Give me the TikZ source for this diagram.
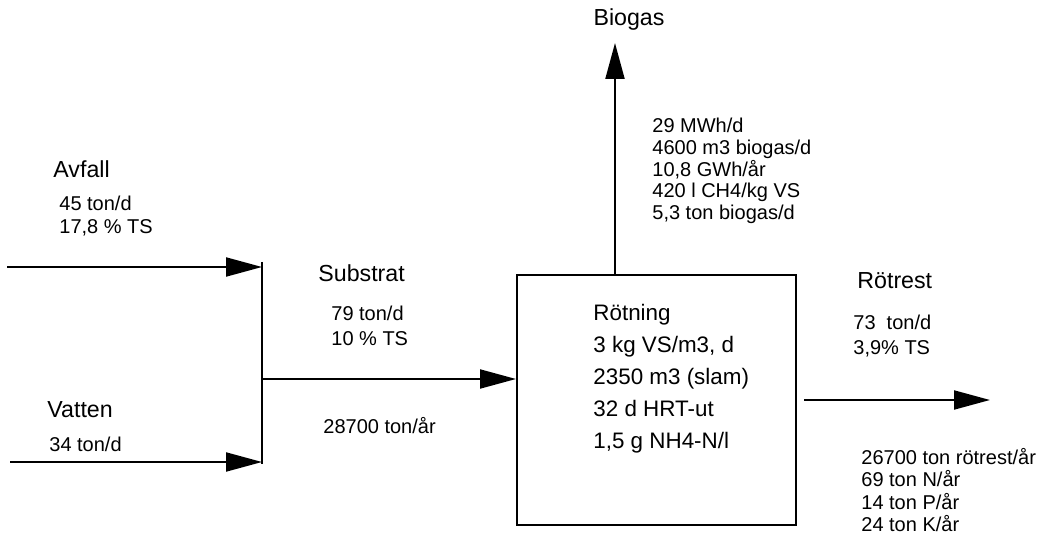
\documentclass[tikz,border=0pt]{standalone}
\usepackage{fontspec}
\setmainfont{Liberation Sans}
\usetikzlibrary{arrows.meta,positioning}

\begin{document}
\begin{tikzpicture}[x=0.5pt, y=-0.5pt,
    flow/.style={-{Triangle[length=18pt, width=9.5pt]}, line width=1pt},
    tank/.style={rectangle, draw, line width=1pt, minimum width=139.5pt, minimum height=125pt, inner sep=0pt},
    title/.style={anchor=west, inner sep=0pt, font=\fontsize{11.6}{14}\selectfont},
    data/.style={anchor=west, inner sep=0pt, align=left, font=\fontsize{10}{11.5}\selectfont}
]
\useasboundingbox (0,0) rectangle (1056,544);

% digester
\node[tank] (rot) at (656.5,400) {};
\node[anchor=west, inner sep=0pt, align=left, font=\fontsize{11.2}{16}\selectfont] (rotinfo) at (593,379) {Rötning\\3 kg VS/m3, d\\2350 m3 (slam)\\32 d HRT-ut\\1,5 g NH4-N/l};

\coordinate (jtop) at (262,262);
\coordinate (jbot) at (262,464);
\coordinate (avin) at (7,267);
\coordinate (vin) at (10,462);
\coordinate (jmid) at (262,379);
\coordinate (gastop) at (615,43);
\coordinate (restend) at (990,400);

\draw[line width=1pt] (jtop) -- (jbot);
\draw[flow] (avin) -- (avin -| jtop);
\draw[flow] (vin) -- (vin -| jtop);
\draw[flow] (jmid) -- (jmid -| rot.west);
\draw[flow] (gastop |- rot.north) -- (gastop);
\draw[flow] ([xshift=3.5pt]rot.east) -- (restend);

% labels
\node[title] (avfall) at (53,169) {Avfall};
\node[data] (avfalldata) at (59,216.5) {45 ton/d\\17,8 \% TS};
\node[title] (vatten) at (47,410) {Vatten};
\node[data] (vattendata) at (49,444) {34 ton/d};
\node[title] (substrat) at (318,273) {Substrat};
\node[data, font=\fontsize{10}{12.5}\selectfont] (substratdata) at (331,326) {79 ton/d\\10 \% TS};
\node[data] (substratyear) at (323,426) {28700 ton/år};
\node[title, anchor=center] (biogas) at (629,20) {Biogas};
\node[data, font=\fontsize{10}{10.9}\selectfont] (biogasdata) at (652,171) {29 MWh/d\\4600 m3 biogas/d\\10,8 GWh/år\\420 l CH4/kg VS\\5,3 ton biogas/d};
\node[title] (rotrest) at (857,281) {Rötrest};
\node[data, font=\fontsize{10}{12.5}\selectfont] (rotrestdata) at (853,336.5) {73\ \ ton/d\\3,9\% TS};
\node[data, font=\fontsize{10}{11.3}\selectfont] (rotrestyear) at (861,490) {26700 ton rötrest/år\\69 ton N/år\\14 ton P/år\\24 ton K/år};
\end{tikzpicture}
\end{document}
